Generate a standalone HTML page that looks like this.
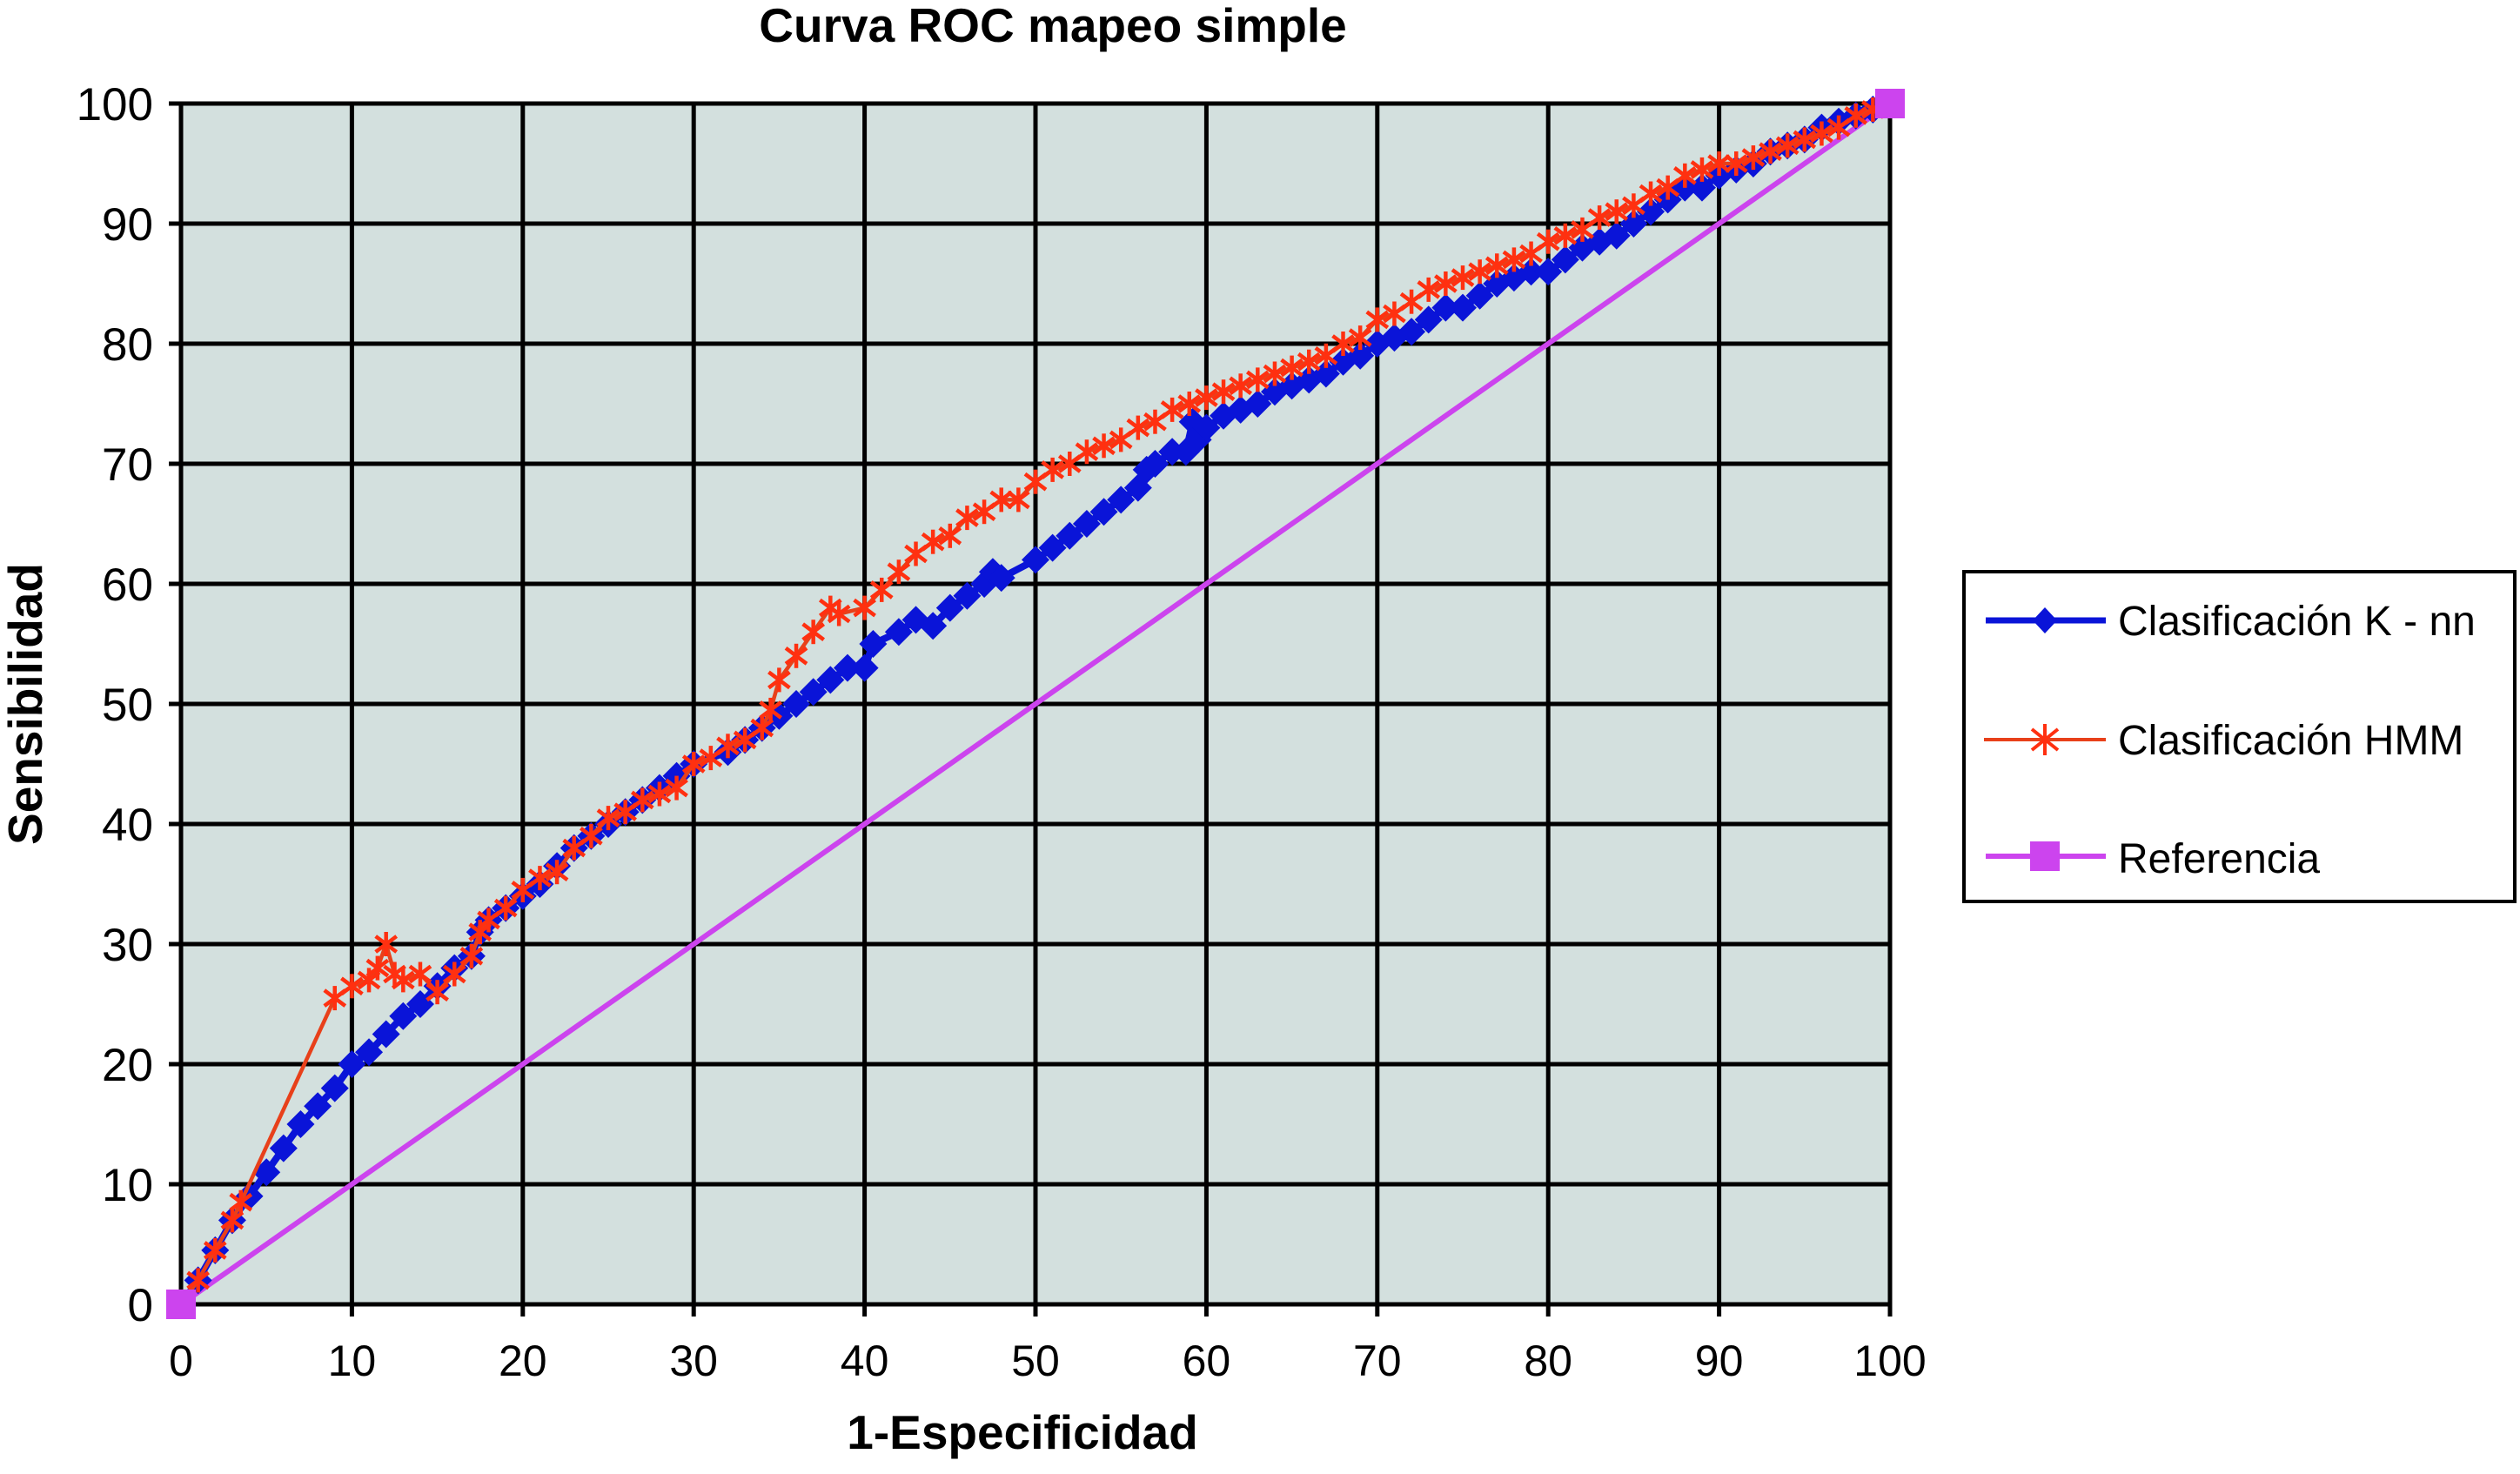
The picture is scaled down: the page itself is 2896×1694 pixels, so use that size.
<!DOCTYPE html>
<html><head><meta charset="utf-8"><style>
body{margin:0;background:#fff}
svg{display:block;font-family:"Liberation Sans",Arial,sans-serif}
</style></head><body>
<svg id="chart" width="2896" height="1694" viewBox="0 0 2896 1694" xmlns="http://www.w3.org/2000/svg">
<rect x="0" y="0" width="2896" height="1694" fill="#fff"/>
<text x="1210" y="48" font-size="55" font-weight="bold" text-anchor="middle">Curva ROC mapeo simple</text>
<rect x="208" y="119" width="1964" height="1380" fill="#d3e0de"/>
<g id="grid"></g>
<g id="series"></g>
<text x="1175" y="1665" font-size="55" font-weight="bold" text-anchor="middle">1-Especificidad</text>
<text transform="translate(48,809) rotate(-90)" font-size="55" font-weight="bold" text-anchor="middle">Sensibilidad</text>
<g>
<rect x="2257" y="657" width="633" height="379" fill="#fff" stroke="#000" stroke-width="4"/>
<line x1="2282" y1="713" x2="2420" y2="713" stroke="#0a14d8" stroke-width="7"/>
<polygon points="2350,698 2364,713 2350,728 2336,713" fill="#0a14d8"/>
<text x="2434" y="730" font-size="48">Clasificación K - nn</text>
<line x1="2280" y1="850" x2="2420" y2="850" stroke="#e8401a" stroke-width="4"/>
<g stroke="#ff3010" stroke-width="4"><line x1="2350" y1="832" x2="2350" y2="868"/><line x1="2335" y1="838" x2="2365" y2="862"/><line x1="2335" y1="862" x2="2365" y2="838"/></g>
<text x="2434" y="867" font-size="48">Clasificación HMM</text>
<line x1="2282" y1="984" x2="2420" y2="984" stroke="#cc44ee" stroke-width="6"/>
<rect x="2333" y="967" width="34" height="34" fill="#cc44ee"/>
<text x="2434" y="1003" font-size="48">Referencia</text>
</g>
</svg>
<script>
const xTicks=[0,10,20,30,40,50,60,70,80,90,100];
const yTicks=[0,10,20,30,40,50,60,70,80,90,100];
const knnX=[0,1,2,3,4,5,6,7,8,9,10,11,12,13,14,15,16,17,17.5,18,19,20,21,22,23,24,25,26,27,28,29,30,32,33,34,35,36,37,38,39,40,40.5,42,43,44,45,46,47,47.5,48,50,51,52,53,54,55,56,56.5,57,58,58.8,59.2,59.5,60,61,62,63,64,65,66,67,68,69,70,71,72,73,74,75,76,77,78,79,80,81,82,83,84,85,86,87,88,89,90,91,92,93,94,95,96,97,98,99,100];
const knnY=[0,2,4.5,7,9,11,13,15,16.5,18,20,21,22.5,24,25,26.5,28,29,31,32,33,34,35,36.5,38,39,40,41,42,43,44,45,46,47,48,49,50,51,52,53,53,55,56,57,56.5,58,59,60,61,60.5,62,63,64,65,66,67,68,69.5,70,71,71,73.5,72,73,74,74.5,75,76,76.5,77,77.5,78.5,79,80,80.5,81,82,83,83,84,85,85.5,86,86,87,88,88.5,89,90,91,92,93,93,94,94.5,95,96,96.5,97,98,98.5,99,99.5,100];
const hmmX=[0,1,2,3,3.5,9,10,11,11.5,12,12.5,13,14,15,16,17,17.5,18,19,20,21,22,23,24,25,26,27,28,29,30,31,32,33,34,34.5,35,36,37,38,38.5,40,41,42,43,44,45,46,47,48,49,50,51,52,53,54,55,56,57,58,59,60,61,62,63,64,65,66,67,68,69,70,71,72,73,74,75,76,77,78,79,80,81,82,83,84,85,86,87,88,89,90,91,92,93,94,95,96,97,98,99,100];
const hmmY=[0,2,4.5,7,8.5,25.5,26.5,27,28,30,27.5,27,27.5,26,27.5,29,31,32,33,34.5,35.5,36,38,39,40.5,41,42,42.5,43,45,45.5,46.5,47,48,49.5,52,54,56,58,57.5,58,59.5,61,62.5,63.5,64,65.5,66,67,67,68.5,69.5,70,71,71.5,72,73,73.5,74.5,75,75.5,76,76.5,77,77.5,78,78.5,79,80,80.5,82,82.5,83.5,84.5,85,85.5,86,86.5,87,87.5,88.5,89,89.5,90.5,91,91.5,92.5,93,94,94.5,95,95,95.5,96,96.5,97,97.5,98,99,99.5,100];
const refX=[0,100];
const refY=[0,100];
const X0=208,X1=2172,Y0=1499,Y1=119;
function sx(v){return X0+(X1-X0)*v/100;}
function sy(v){return Y0-(Y0-Y1)*v/100;}
const NS='http://www.w3.org/2000/svg';
function mk(tag,attrs,parent){const e=document.createElementNS(NS,tag);for(const k in attrs)e.setAttribute(k,attrs[k]);parent.appendChild(e);return e;}
const grid=document.getElementById('grid');
xTicks.forEach(t=>{
  const l=mk('line',{x1:sx(t),x2:sx(t),y1:Y1,y2:Y0+14,stroke:'#000','stroke-width':5},grid);
  
  
  const tx=mk('text',{x:sx(t),y:1581,'font-size':50,'text-anchor':'middle'},grid);
  
  
  tx.textContent=t;
});
yTicks.forEach(t=>{
  const l=mk('line',{x1:X0-14,x2:X1,y1:sy(t),y2:sy(t),stroke:'#000','stroke-width':5},grid);
  
  
  const tx=mk('text',{x:176,y:sy(t)+19,'font-size':53,'text-anchor':'end'},grid);
  
  
  tx.textContent=t;
});
const ser=document.getElementById('series');
function pts(xs,ys){return xs.map((x,i)=>sx(x)+','+sy(ys[i])).join(' ');}
const rl=mk('polyline',{points:pts(refX,refY),fill:'none',stroke:'#cc44ee','stroke-width':6},ser);


const kl=mk('polyline',{points:pts(knnX,knnY),fill:'none',stroke:'#0a14d8','stroke-width':8,'stroke-linejoin':'round'},ser);


knnX.forEach((x,i)=>{const cx=sx(x),cy=sy(knnY[i]);
  const d=mk('polygon',{points:`${cx},${cy-16} ${cx+16},${cy} ${cx},${cy+16} ${cx-16},${cy}`,fill:'#0a14d8'},ser);
  
  
});
const hl=mk('polyline',{points:pts(hmmX,hmmY),fill:'none',stroke:'#e8401a','stroke-width':4.5,'stroke-linejoin':'round'},ser);


hmmX.forEach((x,i)=>{const cx=sx(x),cy=sy(hmmY[i]);
  const g=mk('g',{stroke:'#ff3010','stroke-width':4.5},ser);
  
  
  mk('line',{x1:cx,x2:cx,y1:cy-14,y2:cy+14},g);
  mk('line',{x1:cx-12,x2:cx+12,y1:cy-9,y2:cy+9},g);
  mk('line',{x1:cx-12,x2:cx+12,y1:cy+9,y2:cy-9},g);
});
refX.forEach((x,i)=>{
  const r=mk('rect',{x:sx(x)-17,y:sy(refY[i])-17,width:34,height:34,fill:'#cc44ee'},ser);
  
  
});
</script>
</body></html>
